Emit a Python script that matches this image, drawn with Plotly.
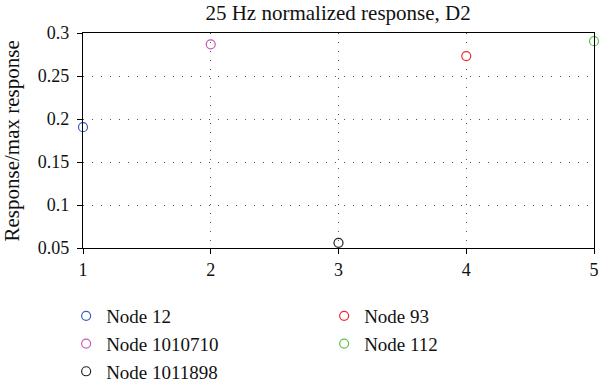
import plotly.graph_objects as go

names = ["Node 12", "Node 93", "Node 1010710", "Node 112", "Node 1011898"]
x_vals = [1, 4, 2, 5, 3]
y_vals = [0.1905, 0.2732, 0.2868, 0.2905, 0.0560]
colors = ["#3b5bc4", "#ee2a2e", "#c85ab4", "#62c04a", "#222222"]

x_ticks = [1, 2, 3, 4, 5]
y_ticks = [0.05, 0.1, 0.15, 0.2, 0.25, 0.3]
y_tick_text = ["0.05", "0.1", "0.15", "0.2", "0.25", "0.3"]
y_title = "Response/max response"

FONT = "Liberation Serif"

fig = go.Figure()
for n, xv, yv, c in zip(names, x_vals, y_vals, colors):
    fig.add_trace(go.Scatter(
        x=[xv], y=[yv], mode="markers", name=n, cliponaxis=False,
        marker=dict(symbol="circle-open", size=9, color=c, line=dict(width=1.2, color=c)),
    ))

fig.update_layout(
    width=600, height=382,
    margin=dict(l=83, r=6, t=33, b=134, autoexpand=False),
    paper_bgcolor="white", plot_bgcolor="white",
    font=dict(family=FONT, size=18, color="#111111"),
    title=dict(text="25 Hz normalized response, D2", x=0.5635, xanchor="center",
               y=0.968, yanchor="middle", font=dict(family=FONT, size=21)),
    showlegend=True,
    legend=dict(orientation="h", x=-0.033, xanchor="left", y=-0.228, yanchor="top",
                entrywidth=213, entrywidthmode="pixels",
                font=dict(family=FONT, size=19), tracegroupgap=0,
                itemwidth=30, bgcolor="rgba(0,0,0,0)"),
    annotations=[dict(text=y_title, xref="paper", yref="paper", x=-0.139, y=0.5,
                      xanchor="center", yanchor="middle", textangle=-90, showarrow=False,
                      font=dict(family=FONT, size=21, color="#111111"))],
)
fig.update_xaxes(
    range=[1, 5], tickvals=x_ticks, ticktext=[str(v) for v in x_ticks],
    showline=True, linecolor="black", linewidth=1.2, mirror=True,
    ticks="outside", ticklen=5, tickcolor="black",
    showgrid=True, gridcolor="#555555", griddash="1px,8px", gridwidth=1,
    zeroline=False, tickfont=dict(family=FONT, size=18),
)
fig.update_yaxes(
    range=[0.05, 0.3], tickvals=y_ticks, ticktext=y_tick_text,
    showline=True, linecolor="black", linewidth=1.2, mirror=True,
    ticks="outside", ticklen=5, tickcolor="black", ticklabelstandoff=4,
    showgrid=True, gridcolor="#555555", griddash="1px,8px", gridwidth=1,
    zeroline=False, tickfont=dict(family=FONT, size=18),
)

fig.write_html("out.html", config={"displayModeBar": False},
               post_script="document.body.style.margin='0';document.body.style.overflow='hidden';")
